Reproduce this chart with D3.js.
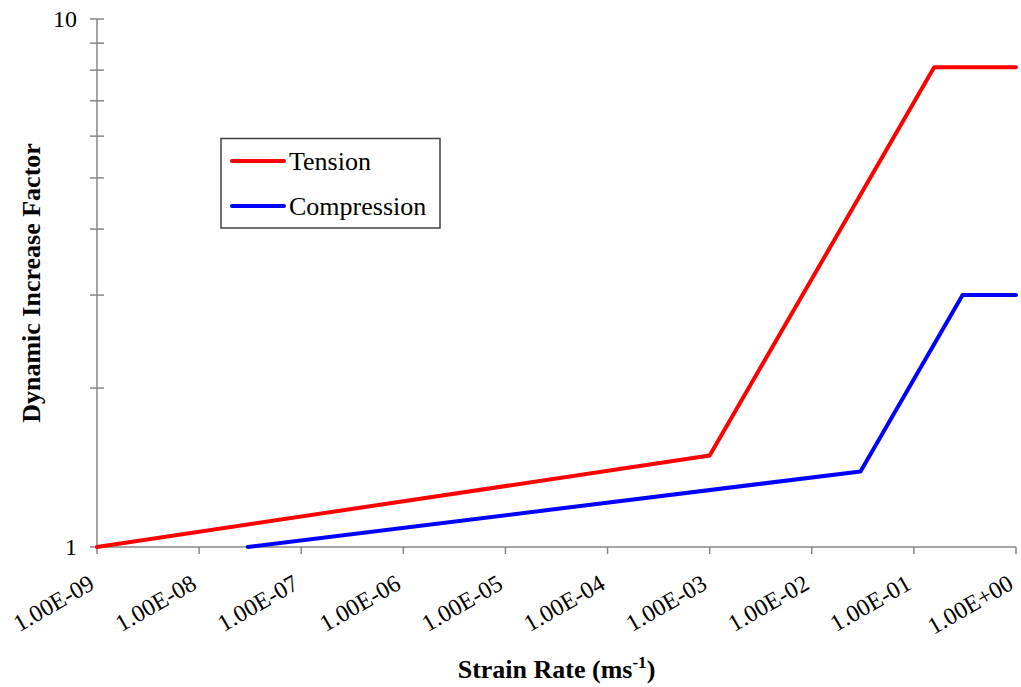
<!DOCTYPE html>
<html>
<head>
<meta charset="utf-8">
<script src="https://cdn.jsdelivr.net/npm/d3@7/dist/d3.min.js"></script>
<style>
  html, body { margin: 0; padding: 0; background: #ffffff; }
  svg { display: block; }
  svg text { font-family: "Liberation Serif", serif; }
</style>
</head>
<body>
<svg id="chart" width="1021" height="687"></svg>
<script>
// Strain-rate breakpoints (1/s) and dynamic increase factors
const tensionRate = [1e-9, 1e-3, 0.158, 1];
const tensionDIF = [1.0, 1.49, 8.1, 8.1];
const compressionRate = [3e-8, 0.03, 0.3, 1];
const compressionDIF = [1.0, 1.39, 3.0, 3.0];

const xTickValues = [1e-9, 1e-8, 1e-7, 1e-6, 1e-5, 1e-4, 1e-3, 1e-2, 1e-1, 1];
const xTickLabels = ["1.00E-09", "1.00E-08", "1.00E-07", "1.00E-06", "1.00E-05",
                     "1.00E-04", "1.00E-03", "1.00E-02", "1.00E-01", "1.00E+00"];
const yMajorTicks = [1, 10];
const yMinorTicks = [2, 3, 4, 5, 6, 7, 8, 9];

const seriesNames = ["Tension", "Compression"];
const seriesColors = ["#ff0000", "#0000ff"];

const svg = d3.select("#chart");
const plotLeft = 97, plotRight = 1016, plotTop = 19, plotBottom = 547;
const axisColor = "#868686";
const tickFont = 24;
const textFont = 26;

const x = d3.scaleLog().domain([1e-9, 1]).range([plotLeft, plotRight]);
const y = d3.scaleLog().domain([1, 10]).range([plotBottom, plotTop]);

// Y axis: line with ticks crossing it
const yAxisG = svg.append("g");
yAxisG.append("line")
  .attr("x1", plotLeft).attr("x2", plotLeft).attr("y1", y(1)).attr("y2", y(10))
  .attr("stroke", axisColor).attr("stroke-width", 1.5);
yAxisG.selectAll("line.tick")
  .data(yMajorTicks.concat(yMinorTicks))
  .join("line")
  .attr("class", "tick")
  .attr("x1", plotLeft - 7).attr("x2", plotLeft + 7)
  .attr("y1", d => y(d)).attr("y2", d => y(d))
  .attr("stroke", axisColor).attr("stroke-width", 1.5);
yAxisG.selectAll("text")
  .data(yMajorTicks)
  .join("text")
  .attr("x", plotLeft - 20)
  .attr("y", d => y(d))
  .attr("dy", "0.34em")
  .attr("text-anchor", "end")
  .attr("font-size", tickFont)
  .attr("fill", "#000")
  .text(d => d3.format("d")(d));

// X axis: line with outward ticks and slanted labels
const xAxisG = svg.append("g");
xAxisG.append("line")
  .attr("x1", x(1e-9)).attr("x2", x(1)).attr("y1", plotBottom).attr("y2", plotBottom)
  .attr("stroke", axisColor).attr("stroke-width", 1.5);
xAxisG.selectAll("line.tick")
  .data(xTickValues)
  .join("line")
  .attr("class", "tick")
  .attr("x1", d => x(d)).attr("x2", d => x(d))
  .attr("y1", plotBottom).attr("y2", plotBottom + 7)
  .attr("stroke", axisColor).attr("stroke-width", 1.5);
xAxisG.selectAll("text")
  .data(xTickValues)
  .join("text")
  .attr("transform", d => `translate(${x(d) - 1},${plotBottom + 41}) rotate(-30)`)
  .attr("text-anchor", "end")
  .attr("font-size", tickFont)
  .attr("fill", "#000")
  .text((d, i) => xTickLabels[i]);

// Series lines
const line = d3.line()
  .x(d => x(d[0]))
  .y(d => y(d[1]));

const series = [
  d3.zip(tensionRate, tensionDIF),
  d3.zip(compressionRate, compressionDIF)
];

svg.append("g").selectAll("path")
  .data(series)
  .join("path")
  .attr("d", line)
  .attr("fill", "none")
  .attr("stroke", (d, i) => seriesColors[i])
  .attr("stroke-width", 4)
  .attr("stroke-linejoin", "round")
  .attr("stroke-linecap", "round");

// Axis titles
svg.append("text")
  .attr("x", (plotLeft + plotRight) / 2)
  .attr("y", 678)
  .attr("text-anchor", "middle")
  .attr("font-size", textFont)
  .attr("font-weight", "bold")
  .attr("fill", "#000")
  .call(t => {
    t.append("tspan").text("Strain Rate (ms");
    t.append("tspan").attr("font-size", 17).attr("dy", -10).text("-1");
    t.append("tspan").attr("dy", 10).text(")");
  });

svg.append("text")
  .attr("transform", `translate(40,${(plotTop + plotBottom) / 2}) rotate(-90)`)
  .attr("text-anchor", "middle")
  .attr("font-size", textFont)
  .attr("font-weight", "bold")
  .attr("fill", "#000")
  .text("Dynamic Increase Factor");

// Legend
const legend = svg.append("g");
legend.append("rect")
  .attr("x", 221).attr("y", 138.5)
  .attr("width", 219).attr("height", 89.5)
  .attr("fill", "#fff")
  .attr("stroke", "#404040").attr("stroke-width", 1.5);
const legendRows = [161, 206];
seriesNames.forEach((name, i) => {
  legend.append("line")
    .attr("x1", 232).attr("x2", 284)
    .attr("y1", legendRows[i]).attr("y2", legendRows[i])
    .attr("stroke", seriesColors[i]).attr("stroke-width", 4)
    .attr("stroke-linecap", "round");
  legend.append("text")
    .attr("x", 289).attr("y", legendRows[i])
    .attr("dy", "0.34em")
    .attr("font-size", textFont)
    .attr("fill", "#000")
    .text(name);
});
</script>
</body>
</html>
